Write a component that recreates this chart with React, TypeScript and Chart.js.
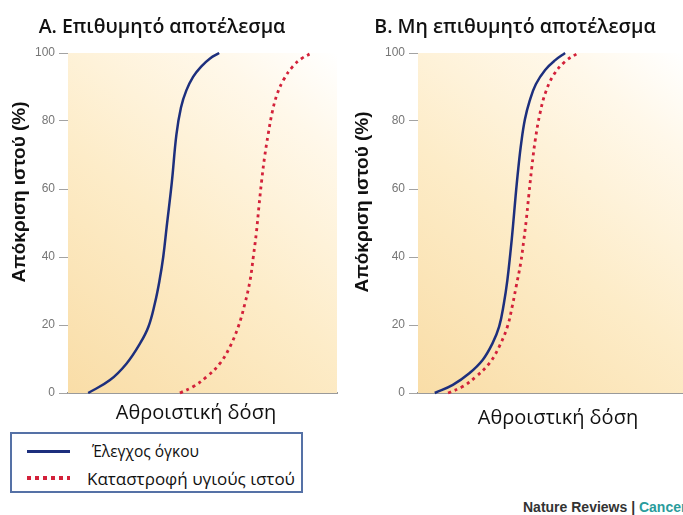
import React, { useEffect, useRef } from "react";
import { Chart, registerables } from "chart.js";

Chart.register(...registerables);

// Cumulative dose runs 0–100 (arbitrary units); tissue response 0–100 %.
const responseTicks = [0, 20, 40, 60, 80, 100];

const seriesNames = ["Έλεγχος όγκου", "Καταστροφή υγιούς ιστού"];
const panelTitles = ["A. Επιθυμητό αποτέλεσμα", "B. Μη επιθυμητό αποτέλεσμα"];
const yAxisTitle = "Απόκριση ιστού (%)";
const xAxisTitle = "Αθροιστική δόση";

// Panel A: wide therapeutic window
const aTumourDose = [7.5, 15.6, 21.8, 26.8, 29.9, 32.3, 34.0, 35.4, 36.7, 38.6, 40.3, 42.0, 44.0, 46.5, 49.5, 52.8, 56.2];
const aTumourResp = [0, 3.8, 8.7, 14.6, 19.5, 26.4, 33.0, 40.0, 49.0, 62.0, 76.0, 84.0, 89.0, 93.0, 96.0, 98.4, 100];
const aNormalDose = [41.6, 46.6, 51.6, 56.5, 60.2, 63.3, 65.8, 67.7, 68.9, 70.0, 71.0, 72.0, 73.1, 74.4, 75.9, 77.7, 80.2, 83.5, 86.9, 90.6];
const aNormalResp = [0, 1.9, 4.8, 8.7, 13.6, 19.5, 26.4, 33.2, 40.1, 47.0, 55.0, 62.5, 69.5, 76.0, 82.5, 87.8, 92.2, 96.0, 98.4, 100];

// Panel B: curves almost overlap
const bTumourDose = [6.3, 13.1, 19.3, 24.3, 28.0, 30.5, 32.3, 33.6, 34.7, 35.7, 36.7, 37.7, 38.8, 40.2, 42.0, 44.3, 47.8, 51.6, 55.3];
const bTumourResp = [0, 2.4, 5.8, 9.7, 14.6, 19.5, 26.4, 33.2, 41.0, 49.0, 58.0, 66.0, 73.5, 80.5, 86.0, 90.8, 95.0, 97.9, 100];
const bNormalDose = [11.3, 16.8, 21.8, 26.8, 30.5, 33.6, 35.4, 36.9, 38.6, 39.8, 40.7, 41.7, 42.8, 44.1, 45.8, 48.0, 51.2, 55.3, 60.2];
const bNormalResp = [0, 1.9, 4.8, 8.7, 13.6, 19.5, 25.4, 31.3, 38.2, 45.1, 50.9, 58.5, 66.5, 74.5, 82.0, 88.5, 93.8, 97.5, 100];

const TUMOUR_COLOR = "#1d2f7d";
const NORMAL_COLOR = "#d3213a";
const AXIS_COLOR = "#a3a3a3";

type PanelSpec = {
  title: string;
  tumourDose: number[];
  tumourResp: number[];
  normalDose: number[];
  normalResp: number[];
  left: number;
  width: number;
  titleDx: number;
  yTitleDx: number;
  yTitleCy: number;
  xTitleDx: number;
  xTitleCy: number;
};

const panels: PanelSpec[] = [
  {
    title: panelTitles[0],
    tumourDose: aTumourDose, tumourResp: aTumourResp,
    normalDose: aNormalDose, normalResp: aNormalResp,
    left: 0, width: 340,
    titleDx: 94, yTitleDx: -48, yTitleCy: 192, xTitleDx: 128, xTitleCy: 413,
  },
  {
    title: panelTitles[1],
    tumourDose: bTumourDose, tumourResp: bTumourResp,
    normalDose: bNormalDose, normalResp: bNormalResp,
    left: 350, width: 337,
    titleDx: 97, yTitleDx: -55, yTitleCy: 202, xTitleDx: 140, xTitleCy: 418,
  },
];

// Warm background inside the plot area plus the panel captions.
const panelDecor = {
  id: "panelDecor",
  beforeDatasetsDraw(chart: any) {
    const { ctx, chartArea: a } = chart;
    const g = ctx.createLinearGradient(a.left, a.bottom, a.right, a.top);
    g.addColorStop(0, "#f9dda7");
    g.addColorStop(0.45, "#fdecc8");
    g.addColorStop(0.82, "#fff8ea");
    g.addColorStop(1, "#ffffff");
    ctx.save();
    ctx.fillStyle = g;
    ctx.fillRect(a.left, a.top, a.right - a.left, a.bottom - a.top);
    ctx.restore();
  },
  afterDraw(chart: any, _args: any, opts: any) {
    const { ctx, chartArea: a } = chart;
    const p: PanelSpec = opts.spec;
    ctx.save();
    ctx.fillStyle = "#111";
    ctx.textAlign = "center";
    ctx.textBaseline = "alphabetic";
    ctx.font = "600 19.5px 'Open Sans'";
    ctx.fillText(p.title, a.left + p.titleDx, 33);

    ctx.textBaseline = "middle";
    ctx.font = "400 20px 'Open Sans'";
    ctx.fillText(xAxisTitle, a.left + p.xTitleDx, p.xTitleCy);

    ctx.translate(a.left + p.yTitleDx, p.yTitleCy);
    ctx.rotate(-Math.PI / 2);
    ctx.font = "bold 19px 'Liberation Sans'";
    ctx.fillText(yAxisTitle, 0, 0);
    ctx.restore();
  },
};

function Panel({ spec }: { spec: PanelSpec }) {
  const ref = useRef<HTMLCanvasElement>(null);
  useEffect(() => {
    const chart = new Chart(ref.current as HTMLCanvasElement, {
      type: "line",
      data: {
        datasets: [
          {
            label: seriesNames[0],
            data: spec.tumourDose.map((x, i) => ({ x, y: spec.tumourResp[i] })),
            borderColor: TUMOUR_COLOR,
            borderWidth: 2.5,
            pointRadius: 0,
            tension: 0.4,
            clip: false,
          },
          {
            label: seriesNames[1],
            data: spec.normalDose.map((x, i) => ({ x, y: spec.normalResp[i] })),
            borderColor: NORMAL_COLOR,
            borderWidth: 2.8,
            borderDash: [3, 4],
            pointRadius: 0,
            tension: 0.4,
            clip: false,
          },
        ],
      },
      options: {
        responsive: false,
        animation: false,
        events: [],
        layout: { padding: { top: 53, bottom: 47, left: 0, right: 3 } },
        plugins: {
          legend: { display: false },
          tooltip: { enabled: false },
          panelDecor: { spec },
        } as any,
        scales: {
          x: {
            type: "linear",
            min: 0,
            max: 100,
            ticks: { display: false },
            grid: { display: false },
            border: { display: true, color: "#9a9a9a", width: 2 },
            afterFit: (s: any) => { s.height = 0; },
          },
          y: {
            min: 0,
            max: 100,
            afterBuildTicks: (s: any) => { s.ticks = responseTicks.map((v) => ({ value: v })); },
            ticks: { color: "#767676", padding: 4, font: { family: "'Liberation Sans'", size: 12 } },
            grid: { drawOnChartArea: false, drawTicks: true, tickLength: 9, color: AXIS_COLOR },
            border: { display: true, color: AXIS_COLOR, width: 1 },
            afterFit: (s: any) => { s.width = 68; },
          },
        },
      },
      plugins: [panelDecor],
    });
    return () => chart.destroy();
  }, [spec]);
  return (
    <canvas
      ref={ref}
      width={spec.width}
      height={440}
      style={{ position: "absolute", left: spec.left, top: 0 }}
    />
  );
}

function LegendBox() {
  const row: React.CSSProperties = {
    position: "absolute",
    left: 0,
    right: 0,
    height: 24,
    display: "flex",
    alignItems: "center",
  };
  const text: React.CSSProperties = {
    fontFamily: "'Open Sans'",
    color: "#111",
    whiteSpace: "nowrap",
  };
  return (
    <div
      style={{
        position: "absolute",
        left: 10,
        top: 432,
        width: 293,
        height: 61,
        boxSizing: "border-box",
        border: "2px solid #5571a6",
        background: "#fff",
      }}
    >
      <div style={{ ...row, top: 5 }}>
        <div style={{ marginLeft: 15, width: 43, height: 3, background: TUMOUR_COLOR }} />
        <span style={{ ...text, marginLeft: 22, fontSize: 15.5 }}>{seriesNames[0]}</span>
      </div>
      <div style={{ ...row, top: 32 }}>
        <div
          style={{
            marginLeft: 15,
            width: 43,
            height: 4,
            background: `repeating-linear-gradient(to right, ${NORMAL_COLOR} 0 4px, transparent 4px 8px)`,
          }}
        />
        <span style={{ ...text, marginLeft: 17, fontSize: 17 }}>{seriesNames[1]}</span>
      </div>
    </div>
  );
}

export default function App() {
  return (
    <div
      style={{
        position: "fixed",
        left: 0,
        top: 0,
        width: 683,
        height: 515,
        overflow: "hidden",
        background: "#fff",
      }}
    >
      {panels.map((p) => (
        <Panel key={p.title} spec={p} />
      ))}
      <LegendBox />
      <div
        style={{
          position: "absolute",
          left: 523,
          top: 499,
          whiteSpace: "nowrap",
          fontFamily: "'Liberation Sans'",
          fontWeight: "bold",
          fontSize: 14,
          color: "#333",
        }}
      >
        Nature Reviews | <span style={{ color: "#2a9c9c" }}>Cancer</span>
      </div>
    </div>
  );
}
